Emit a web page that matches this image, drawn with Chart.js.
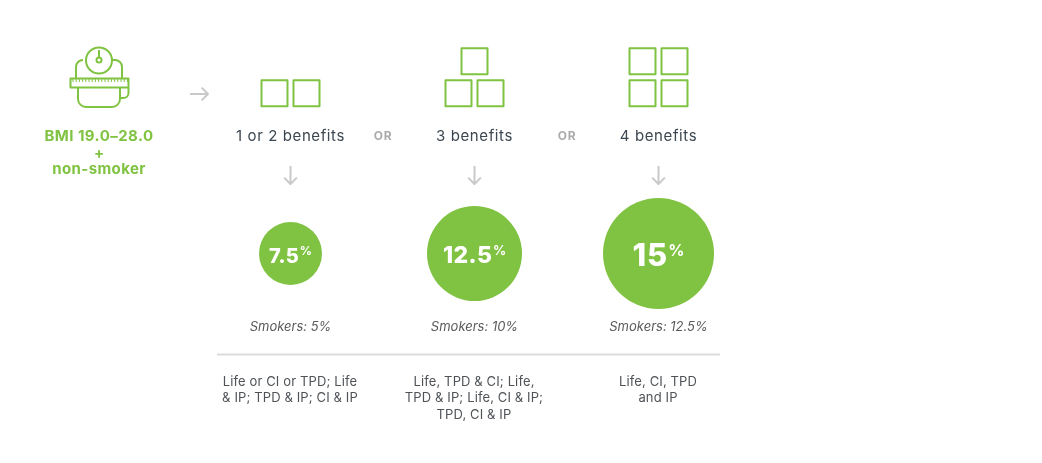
<!DOCTYPE html>
<html>
<head>
<meta charset="utf-8">
<title>Premium discounts by number of benefits</title>
<style>
  html, body { margin: 0; padding: 0; background: #fff; }
  canvas { display: block; }
</style>
<script src="https://cdn.jsdelivr.net/npm/chart.js@4"></script>
</head>
<body>
<canvas id="chart" width="1042" height="463"></canvas>
<script>
/* ─── Data ─── */
const categories   = ["1 or 2 benefits", "3 benefits", "4 benefits"];
const benefitCount = [2, 3, 4];
const nonSmoker    = [7.5, 12.5, 15];
const smokerLabels = ["Smokers: 5%", "Smokers: 10%", "Smokers: 12.5%"];
const combos = [
  ["Life or CI or TPD; Life", "& IP; TPD & IP; CI & IP"],
  ["Life, TPD & CI; Life,", "TPD & IP; Life, CI & IP;", "TPD, CI & IP"],
  ["Life, CI, TPD", "and IP"],
];
const criteria = ["BMI 19.0–28.0", "+", "non-smoker"];

/* ─── Styles ─── */
const GREEN = "#80c342";
const GREY  = "#c9c9c9";
const FONT  = "Inter, 'Open Sans', sans-serif";

const bubbleRadius = v => 7.5 + 3.2 * v;

function text(ctx, str, x, y, font, color, spacing, align) {
  ctx.font = font;
  ctx.fillStyle = color;
  ctx.letterSpacing = (spacing || 0) + "px";
  ctx.textAlign = align || "center";
  ctx.textBaseline = "middle";
  ctx.fillText(str, x, y);
  ctx.letterSpacing = "0px";
}

function arrow(ctx, x1, y1, x2, y2) {
  const a = Math.atan2(y2 - y1, x2 - x1);
  ctx.beginPath();
  ctx.moveTo(x1, y1);
  ctx.lineTo(x2, y2);
  ctx.moveTo(x2 - 9 * Math.cos(a - Math.PI / 4), y2 - 9 * Math.sin(a - Math.PI / 4));
  ctx.lineTo(x2, y2);
  ctx.lineTo(x2 - 9 * Math.cos(a + Math.PI / 4), y2 - 9 * Math.sin(a + Math.PI / 4));
  ctx.strokeStyle = GREY;
  ctx.lineWidth = 2;
  ctx.stroke();
}

function squares(ctx, cx, n) {
  ctx.strokeStyle = GREEN;
  ctx.lineWidth = 2;
  const rows = n === 2 ? [[-1, 1]] : n === 3 ? [[0], [-1, 1]] : [[-1, 1], [-1, 1]];
  rows.forEach((row, r) => {
    const y = 107 - (rows.length - r) * 32 + 5.3;
    row.forEach(k => ctx.strokeRect(cx + k * 16 - 13, y, 26, 26));
  });
}

function scaleIcon(ctx) {
  ctx.strokeStyle = GREEN;
  ctx.lineWidth = 2;
  ctx.lineJoin = "round";

  // upper body, behind the dial
  ctx.beginPath();
  ctx.moveTo(76, 78);
  ctx.lineTo(76, 67);
  ctx.arcTo(76, 60, 86, 60, 7);
  ctx.moveTo(112, 60);
  ctx.arcTo(122, 60, 122, 67, 7);
  ctx.lineTo(122, 78);
  ctx.stroke();

  // dial
  ctx.beginPath();
  ctx.arc(99, 60.5, 13, 0, Math.PI * 2);
  ctx.stroke();
  ctx.beginPath();
  ctx.moveTo(99, 50);
  ctx.lineTo(99, 58);
  ctx.stroke();
  ctx.beginPath();
  ctx.arc(99, 60, 2.5, 0, Math.PI * 2);
  ctx.stroke();

  // tape
  ctx.strokeRect(70.5, 78.5, 58, 9);
  ctx.lineWidth = 1;
  ctx.beginPath();
  for (let x = 73; x < 128; x += 3.2) {
    ctx.moveTo(x, 79);
    ctx.lineTo(x, 82);
  }
  ctx.stroke();
  ctx.lineWidth = 2;

  // lower body + tape end
  ctx.beginPath();
  ctx.moveTo(78, 88);
  ctx.lineTo(78, 99);
  ctx.arcTo(78, 107, 86, 107, 8);
  ctx.lineTo(112, 107);
  ctx.arcTo(120, 107, 120, 99, 8);
  ctx.lineTo(120, 88);
  ctx.stroke();
  ctx.beginPath();
  ctx.moveTo(128.5, 88);
  ctx.lineTo(128.5, 93);
  ctx.arcTo(128.5, 98, 123, 98, 5);
  ctx.lineTo(120, 98);
  ctx.stroke();
}

/* ─── Everything around the bubbles ─── */
const infographic = {
  id: "infographic",
  afterDatasetsDraw(chart) {
    const ctx = chart.ctx;
    const xs = categories.map((_, i) => chart.scales.x.getPixelForValue(i));
    ctx.save();

    scaleIcon(ctx);
    text(ctx, criteria[0], 99, 136, "700 15px " + FONT, GREEN, 0.45);
    text(ctx, criteria[1], 99, 153, "700 15px " + FONT, GREEN, 0);
    text(ctx, criteria[2], 99, 169, "700 15px " + FONT, GREEN, 0.4);
    arrow(ctx, 190, 94, 208, 94);

    categories.forEach((c, i) => {
      const x = xs[i];
      squares(ctx, x, benefitCount[i]);
      text(ctx, c, x, 136, "400 15px " + FONT, "#3b4650", 0.6);
      arrow(ctx, x, 166, x, 184);
      text(ctx, smokerLabels[i], x, 327.5, "italic 400 13px " + FONT, "#5a5a5a", 0);
      combos[i].forEach((line, k) => {
        text(ctx, line, x - 0.5, 382 + k * 16.4, "400 13px " + FONT, "#4f5357", 0.12);
      });
    });

    text(ctx, "OR", (xs[0] + xs[1]) / 2 + 0.5, 136.5, "700 12px " + FONT, "#ababab", 0.6);
    text(ctx, "OR", (xs[1] + xs[2]) / 2 + 0.5, 136.5, "700 12px " + FONT, "#ababab", 0.6);

    // value labels inside the bubbles
    const sizes = [[20, 12, 0.3], [23, 13, 0.4], [31, 16, 1]];
    nonSmoker.forEach((v, i) => {
      const [big, small, gap] = sizes[i];
      ctx.font = "800 " + big + "px " + FONT;
      ctx.letterSpacing = gap + "px";
      const w = ctx.measureText(String(v)).width - gap;
      ctx.letterSpacing = "0px";
      ctx.font = "700 " + small + "px " + FONT;
      const pw = ctx.measureText("%").width;
      const left = xs[i] - (w + pw + 1) / 2;
      const y = chart.scales.y.getPixelForValue(0);
      text(ctx, String(v), left, y + 3, "800 " + big + "px " + FONT, "#fff", gap, "left");
      text(ctx, "%", left + w + 1, y - 2.5, "700 " + small + "px " + FONT, "#fff", 0, "left");
    });

    // rule
    ctx.strokeStyle = "#dcdcdc";
    ctx.lineWidth = 2;
    ctx.beginPath();
    ctx.moveTo(217, 354.5);
    ctx.lineTo(720, 354.5);
    ctx.stroke();

    ctx.restore();
  },
};

/* ─── Chart ─── */
new Chart(document.getElementById("chart"), {
  type: "bubble",
  data: {
    labels: categories,
    datasets: [{
      label: "Non-smoker discount (%)",
      data: nonSmoker.map((v, i) => ({ x: categories[i], y: 0, r: bubbleRadius(v) })),
      backgroundColor: GREEN,
      borderWidth: 0,
      clip: false,
    }],
  },
  options: {
    responsive: false,
    animation: false,
    devicePixelRatio: 1,
    layout: { padding: { left: 198.5, right: 291.5, top: 198.5, bottom: 154.5 } },
    plugins: { legend: { display: false }, tooltip: { enabled: false } },
    scales: {
      x: { type: "category", offset: true, display: false },
      y: { type: "linear", min: -1, max: 1, display: false },
    },
  },
  plugins: [infographic],
});
</script>
</body>
</html>
